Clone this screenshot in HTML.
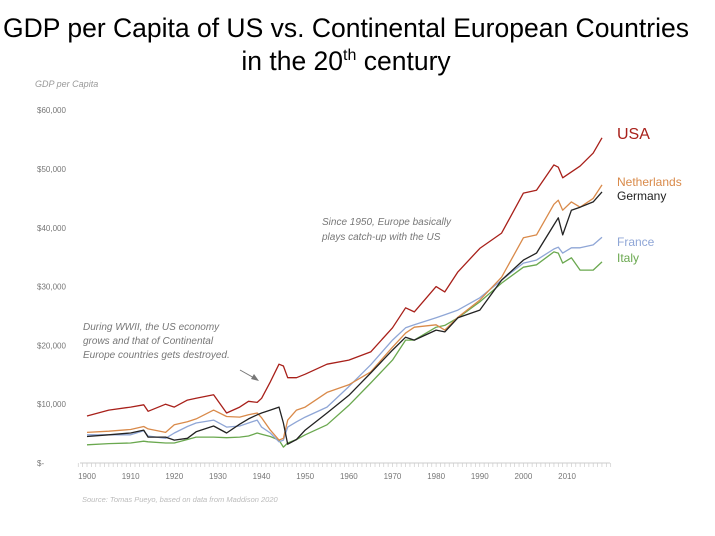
<!DOCTYPE html>
<html><head><meta charset="utf-8"><style>
body{margin:0;background:#fff;}
svg{display:block;font-family:"Liberation Sans",sans-serif;}
</style></head><body>
<svg id="chart" width="715" height="536" viewBox="0 0 715 536">
<text x="346" y="37" text-anchor="middle" font-size="26.5" fill="#000">GDP per Capita of US vs. Continental European Countries</text>
<text x="346" y="70" text-anchor="middle" font-size="26.5" fill="#000">in the 20<tspan font-size="16" dy="-10">th</tspan><tspan dy="10"> century</tspan></text>
<text x="35" y="87" font-size="9" font-style="italic" fill="#999">GDP per Capita</text>
<g id="yaxis"></g>
<g id="xaxis"></g>
<g id="series"></g>
<text font-size="10" font-style="italic" fill="#777"><tspan x="83" y="330">During WWII, the US economy</tspan><tspan x="83" y="344">grows and that of Continental</tspan><tspan x="83" y="358">Europe countries gets destroyed.</tspan></text>
<line x1="240" y1="370" x2="256" y2="379" stroke="#777" stroke-width="1"/>
<polygon points="259,381 251,379 254,374" fill="#777"/>
<text font-size="10" font-style="italic" fill="#777"><tspan x="322" y="225">Since 1950, Europe basically</tspan><tspan x="322" y="240">plays catch-up with the US</tspan></text>
<text x="82" y="502" font-size="7.5" font-style="italic" fill="#bbb">Source: Tomas Pueyo, based on data from Maddison 2020</text>
<g id="legend"></g>
</svg>
<script>
const years = [1900,1905,1910,1913,1914,1918,1920,1923,1925,1929,1932,1935,1937,1939,1940,1942,1944,1945,1946,1948,1950,1955,1960,1965,1970,1973,1975,1980,1982,1985,1990,1995,2000,2003,2007,2008,2009,2011,2013,2016,2018];
const usa = [8.0,9.0,9.5,9.9,8.8,10.0,9.5,10.7,11.0,11.6,8.5,9.5,10.5,10.3,11.0,13.8,16.8,16.5,14.5,14.5,15.1,16.8,17.5,18.9,23.0,26.4,25.7,30.0,29.1,32.5,36.5,39.1,45.9,46.4,50.7,50.3,48.5,49.5,50.5,52.7,55.3];
const netherlands = [5.2,5.4,5.7,6.2,5.8,5.2,6.5,7.0,7.5,9.0,7.9,7.8,8.2,8.5,7.7,5.6,3.9,4.2,7.3,9.0,9.5,12.0,13.3,15.5,19.7,22.1,23.1,23.5,22.6,24.8,27.7,31.6,38.3,38.8,44.0,44.7,43.0,44.4,43.5,45.0,47.3];
const germany = [4.5,4.8,5.1,5.6,4.4,4.4,3.9,4.2,5.3,6.3,5.1,6.6,7.5,8.2,8.5,9.0,9.5,6.8,3.2,4.0,5.6,8.5,11.5,15.3,19.2,21.4,20.9,22.6,22.3,24.7,26.0,31.1,34.5,35.7,40.5,41.7,38.8,43.0,43.5,44.4,46.1];
const france = [4.8,4.8,4.8,5.5,4.6,4.2,5.1,6.2,6.8,7.3,6.1,6.3,6.8,7.3,6.1,5.1,3.6,3.9,6.1,7.0,7.8,9.5,13.0,16.7,20.9,23.0,23.5,24.7,25.2,26.0,28.1,31.1,34.0,34.5,36.4,36.7,35.7,36.6,36.6,37.1,38.4];
const italy = [3.1,3.3,3.4,3.7,3.6,3.4,3.4,4.0,4.4,4.4,4.3,4.4,4.6,5.1,4.9,4.5,3.9,2.7,3.4,4.0,4.8,6.5,9.8,13.6,17.5,20.9,20.9,23.1,23.4,24.7,27.4,30.6,33.3,33.7,35.9,35.7,34.0,34.9,32.8,32.8,34.2];
const seriesNames = ["USA","Netherlands","Germany","France","Italy"];
const yTicks = [0,10,20,30,40,50,60];
const yTickLabels = ["$-","$10,000","$20,000","$30,000","$40,000","$50,000","$60,000"];
const xTicks = [1900,1910,1920,1930,1940,1950,1960,1970,1980,1990,2000,2010];

const NS="http://www.w3.org/2000/svg";
const X = yr => 87 + (yr-1900)*4.364;
const Y = v => 463 - v*5.88;
function mk(tag, attrs, parent){const e=document.createElementNS(NS,tag);for(const k in attrs)e.setAttribute(k,attrs[k]);parent.appendChild(e);return e;}
const yg=document.getElementById('yaxis'), xg=document.getElementById('xaxis'), sg=document.getElementById('series'), lg=document.getElementById('legend');
yTicks.forEach((t,i)=>{
  const tx=mk('text',{x:37,y:Y(t)+3,'font-size':8,fill:'#777'},yg);
  
  
  tx.textContent=yTickLabels[i];
});
const ax=mk('line',{x1:80,y1:463,x2:610,y2:463,stroke:'#ccc','stroke-width':1},xg);


for(let yr=1898;yr<=2020;yr++){
  const tk=mk('line',{x1:X(yr),y1:463,x2:X(yr),y2:467,stroke:'#ccc','stroke-width':0.7},xg);
  
  
}
xTicks.forEach(t=>{
  const tx=mk('text',{x:X(t),y:479,'font-size':8,fill:'#777','text-anchor':'middle'},xg);
  
  
  tx.textContent=t;
});
const all=[usa,netherlands,germany,france,italy];
const colors=["#a8201a","#d98a4a","#222","#8fa6d6","#6aa84f"];
const order=[4,3,1,2,0];
order.forEach(i=>{
  const d=years.map((yr,j)=>(j?'L':'M')+X(yr).toFixed(1)+','+Y(all[i][j]).toFixed(1)).join(' ');
  const p=mk('path',{d:d,fill:'none',stroke:colors[i],'stroke-width':1.3,'stroke-linejoin':'round'},sg);
  
  
});
const legY=[139,186,200,246,262], legSize=[16,12,12,12,12];
seriesNames.forEach((n,i)=>{
  const t=mk('text',{x:617,y:legY[i],'font-size':legSize[i],fill:colors[i]},lg);
  
  
  t.textContent=n;
});
</script>
</body></html>
